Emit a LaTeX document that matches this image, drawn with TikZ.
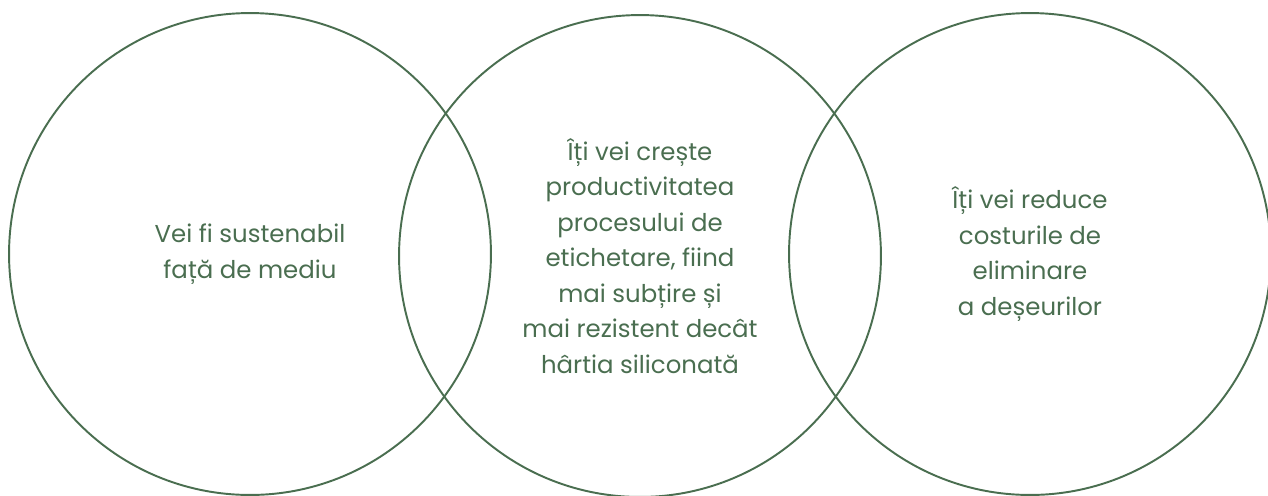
\documentclass[tikz,border=0pt]{standalone}
\usepackage{fontspec}
\setmainfont{Poppins}
\usepackage{xcolor}
\definecolor{ColA}{RGB}{74,110,80}
\tikzstyle{NodeVenn}=[circle,draw=ColA,line width=1.1pt,minimum size=9.64cm,inner sep=0pt,
align=center,text=ColA,font=\fontsize{13.9}{20.2}\selectfont]

\begin{document}
\begin{tikzpicture}[x=0.02cm,y=-0.02cm]
        \clip(0,0)rectangle(1268,495);
        \node[NodeVenn](a)at(250,254){Vei fi sustenabil\\față de mediu};
        \node[NodeVenn](b)at(640,256){Îți vei crește\\productivitatea\\procesului de\\etichetare, fiind\\mai subțire și\\mai rezistent decât\\hârtia siliconată};
        \node[NodeVenn](c)at(1030,254){Îți vei reduce\\costurile de\\eliminare\\a deșeurilor};
    \end{tikzpicture}
\end{document}
